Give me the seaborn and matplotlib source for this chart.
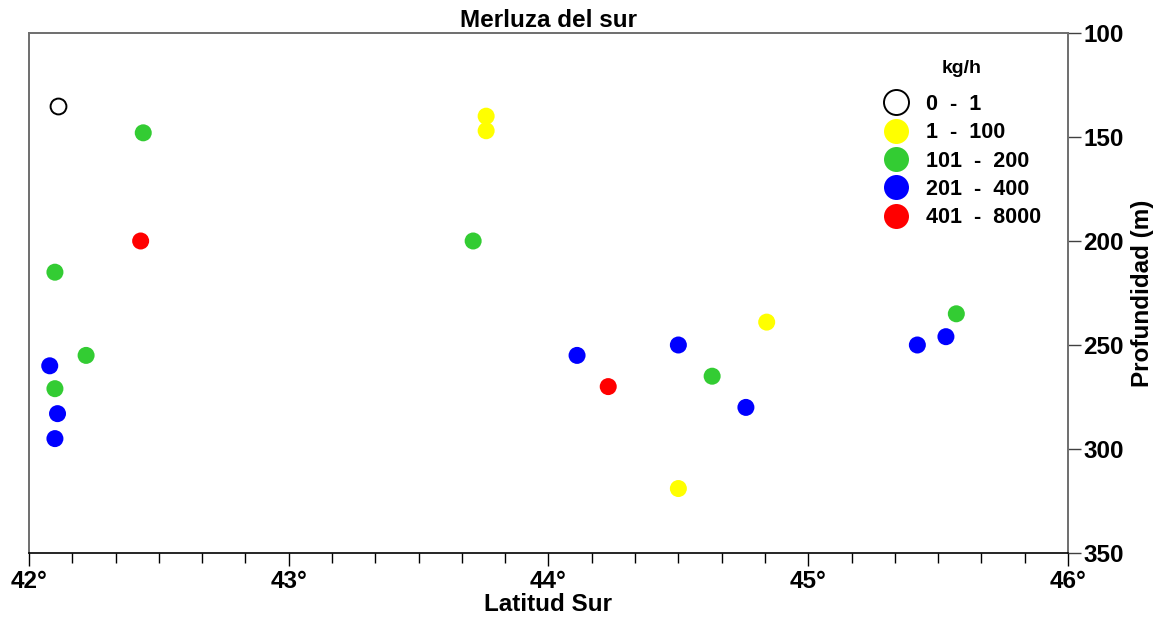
import matplotlib
matplotlib.use("Agg")
import matplotlib.pyplot as plt
from matplotlib.lines import Line2D
from matplotlib.ticker import MultipleLocator, FixedLocator
import seaborn as sns
import pandas as pd

# Catch stations: latitude (°S), depth (m), catch class (kg/h)
latitud = [42.11, 42.44, 42.43, 42.10, 42.08, 42.22, 42.10, 42.11, 42.10,
           43.76, 43.76, 43.71, 44.11, 44.23, 44.50, 44.63, 44.76, 44.84,
           44.50, 45.42, 45.53, 45.57]
profundidad = [135, 148, 200, 215, 260, 255, 271, 283, 295,
               140, 147, 200, 255, 270, 250, 265, 280, 239,
               319, 250, 246, 235]
clase = ["0  -  1", "101  -  200", "401  -  8000", "101  -  200", "201  -  400",
         "101  -  200", "101  -  200", "201  -  400", "201  -  400",
         "1  -  100", "1  -  100", "101  -  200", "201  -  400", "401  -  8000",
         "201  -  400", "101  -  200", "201  -  400", "1  -  100",
         "1  -  100", "201  -  400", "201  -  400", "101  -  200"]

clases = ["0  -  1", "1  -  100", "101  -  200", "201  -  400", "401  -  8000"]
colores = ["#FFFFFF", "#FFFF00", "#33CC33", "#0000FF", "#FF0000"]

x_ticks = [42, 43, 44, 45, 46]
x_labels = ["42°", "43°", "44°", "45°", "46°"]
y_ticks = [100, 150, 200, 250, 300, 350]

df = pd.DataFrame({"lat": latitud, "prof": profundidad, "clase": clase})

sns.set_style("white")
plt.rcParams["font.family"] = ["Liberation Sans", "DejaVu Sans"]
plt.rcParams["font.weight"] = "bold"
plt.rcParams["text.color"] = "black"
plt.rcParams["axes.labelcolor"] = "black"
plt.rcParams["xtick.color"] = "black"
plt.rcParams["ytick.color"] = "black"

fig = plt.figure(figsize=(11.58, 6.28), dpi=100)
ax = fig.add_axes([0.025, 0.1194, 0.8973, 0.8281])

paleta = dict(zip(clases, colores))
llenos = df[df["clase"] != clases[0]]
vacios = df[df["clase"] == clases[0]]

sns.scatterplot(data=llenos, x="lat", y="prof", hue="clase", palette=paleta,
                s=150, edgecolor="none", legend=False, ax=ax, zorder=3)
sns.scatterplot(data=vacios, x="lat", y="prof", s=130, facecolor="white",
                edgecolor="black", linewidth=1.4, legend=False, ax=ax, zorder=3)

ax.set_xlim(42, 46)
ax.set_ylim(350, 100)

ax.xaxis.set_major_locator(FixedLocator(x_ticks))
ax.set_xticklabels(x_labels)
ax.xaxis.set_minor_locator(MultipleLocator(1 / 6))
ax.yaxis.tick_right()
ax.yaxis.set_label_position("right")
ax.set_yticks(y_ticks)

ax.tick_params(axis="x", which="major", direction="out", length=9.5, width=1,
               color="black", labelcolor="black", labelsize=17.5, pad=3,
               bottom=True)
ax.tick_params(axis="x", which="minor", direction="out", length=7.5, width=1,
               color="black", bottom=True)
ax.tick_params(axis="y", which="major", direction="out", length=9, width=1,
               color="#404040", labelcolor="black", labelsize=17.5, pad=2,
               right=True, left=False)

for lab in ax.get_xticklabels() + ax.get_yticklabels():
    lab.set_fontweight("bold")

for side in ["left", "top", "right"]:
    ax.spines[side].set_color("#6E6E6E")
    ax.spines[side].set_linewidth(1.4)
ax.spines["bottom"].set_color("black")
ax.spines["bottom"].set_linewidth(1.2)

ax.set_title("Merluza del sur", fontsize=17.5, fontweight="bold", pad=4,
             color="black")
ax.set_xlabel("Latitud Sur", fontsize=17.5, fontweight="bold", labelpad=0,
              color="black")
ax.set_ylabel("Profundidad (m)", fontsize=17.5, fontweight="bold",
              rotation=90, labelpad=5, color="black")

handles = []
for c, col in zip(clases, colores):
    edge = "black" if c == clases[0] else col
    handles.append(Line2D([], [], marker="o", linestyle="none", markersize=18,
                          markerfacecolor=col, markeredgecolor=edge,
                          markeredgewidth=1.4 if c == clases[0] else 0))
leg = ax.legend(handles, clases, title="kg/h", loc="upper left",
                bbox_to_anchor=(0.812, 0.964), frameon=False,
                prop={"size": 15.5, "weight": "bold"}, handletextpad=0.7,
                labelspacing=0.34, borderaxespad=0, handlelength=1.4)
leg.get_title().set_fontsize(14)
leg.get_title().set_fontweight("bold")
leg.get_title().set_color("black")
for t in leg.get_texts():
    t.set_color("black")
leg._legend_box.sep = 12

fig.savefig("out.png", dpi=100)
